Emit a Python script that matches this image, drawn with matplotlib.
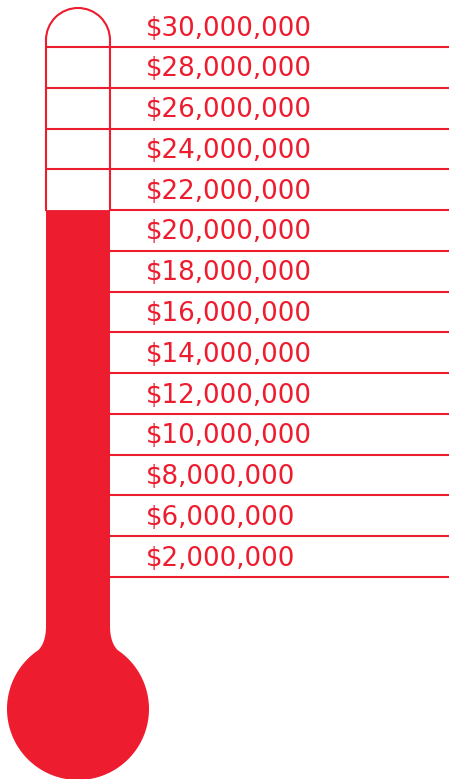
import numpy as np
import matplotlib.pyplot as plt
from matplotlib.patches import Polygon, Arc

# Datos del termómetro
ETIQUETAS = ["$30,000,000", "$28,000,000", "$26,000,000", "$24,000,000",
             "$22,000,000", "$20,000,000", "$18,000,000", "$16,000,000",
             "$14,000,000", "$12,000,000", "$10,000,000", "$8,000,000",
             "$6,000,000", "$2,000,000"]
NIVEL_ALCANZADO = "$20,000,000"

ROJO = "#ED1C2E"
W, H = 449, 779

fig = plt.figure(figsize=(W / 100, H / 100), dpi=100)
ax = fig.add_axes([0, 0, 1, 1])
ax.set_xlim(0, W)
ax.set_ylim(H, 0)
ax.axis("off")

# Geometría (pixeles)
x_izq, x_der = 46, 110
cx = (x_izq + x_der) / 2
paso = (577 - 47) / (len(ETIQUETAS) - 1)
y_lineas = [47 + i * paso for i in range(len(ETIQUETAS))]
radio_tapa = (x_der - x_izq) / 2
y_tapa = 40

idx = ETIQUETAS.index(NIVEL_ALCANZADO)
y_nivel = y_lineas[idx - 1]

# Bulbo + relleno
bc_y, br = 709, 71
y_union = 650
dx_union = np.sqrt(br**2 - (y_union - bc_y)**2)
ang0 = np.degrees(np.arctan2(y_union - bc_y, -dx_union))
ang1 = np.degrees(np.arctan2(y_union - bc_y, dx_union))
angs = np.radians(np.linspace(ang0, ang1 - 360, 200))
arco = np.column_stack([cx + br * np.cos(angs), bc_y + br * np.sin(angs)])


def bezier(p0, p1, p2, n=20):
    t = np.linspace(0, 1, n)[:, None]
    return (1 - t)**2 * np.array(p0) + 2 * (1 - t) * t * np.array(p1) + t**2 * np.array(p2)


pts = [np.array([[x_izq, y_nivel], [x_izq, 626]])]
pts.append(bezier((x_izq, 626), (x_izq, 642), (cx - dx_union, y_union)))
pts.append(arco)
pts.append(bezier((cx + dx_union, y_union), (x_der, 642), (x_der, 626)))
pts.append(np.array([[x_der, 626], [x_der, y_nivel]]))
ax.add_patch(Polygon(np.vstack(pts), closed=True, facecolor=ROJO, edgecolor="none"))

# Tubo vacío
lw = 1.5
ax.plot([x_izq, x_izq], [y_tapa, y_nivel], color=ROJO, lw=lw)
ax.plot([x_der, x_der], [y_tapa, y_nivel], color=ROJO, lw=lw)
ax.add_patch(Arc((cx, y_tapa), 2 * radio_tapa, 2 * radio_tapa, theta1=180, theta2=360,
                 color=ROJO, lw=lw))

# Líneas y etiquetas
for i, (y, txt) in enumerate(zip(y_lineas, ETIQUETAS)):
    x0 = x_izq if i < idx - 1 else x_der
    ax.plot([x0, W], [y, y], color=ROJO, lw=lw, solid_capstyle="butt")
    y_txt = y - paso / 2
    ax.text(146, y_txt + 2, txt, color=ROJO, fontsize=18.8, family="DejaVu Sans",
            weight="normal", va="center", ha="left")

fig.savefig("out.png", dpi=100)
